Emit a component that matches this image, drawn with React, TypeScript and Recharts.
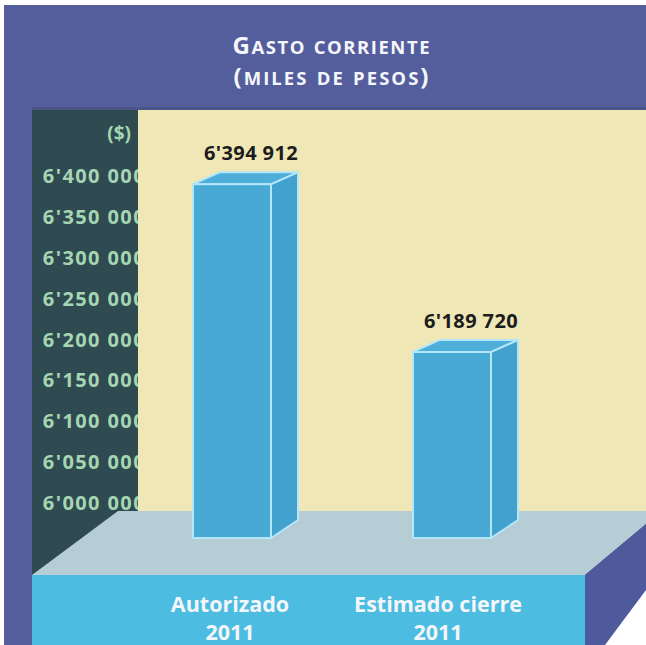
import { Bar, BarChart, LabelList, XAxis, YAxis } from "recharts";

const CATEGORIES = ["Autorizado 2011", "Estimado cierre 2011"];
const GASTO = [6394912, 6189720];
const Y_TICKS = [
  6000000, 6050000, 6100000, 6150000, 6200000, 6250000, 6300000, 6350000,
  6400000,
];
const TITLE_LINES = ["Gasto corriente", "(miles de pesos)"];
const UNIT_LABEL = "($)";

// axis range chosen so the ticks sit where the picture has them
const Y_MIN = 5957187;
const Y_MAX = 6479511;

const W = 646;
const H = 645;

const C = {
  frame: "#545e9d",
  panel: "#2f4a50",
  plot: "#efe7b5",
  floor: "#b7cdd5",
  band: "#4cbde0",
  side: "#4f5a9c",
  barFront: "#48a9d5",
  barSide: "#42a1cd",
  barTop: "#4caed9",
  barEdge: "#b3e6f8",
  tick: "#a5d6b4",
  white: "#f4f6fb",
};

const FONT = "'Open Sans', 'DejaVu Sans', sans-serif";

const data = CATEGORIES.map((name, i) => ({ name, value: GASTO[i] }));

// 6394912 -> 6'394 912
function fmt(v: number) {
  const s = String(Math.round(v));
  const rest = s.slice(-6);
  return `${s.slice(0, -6)}'${rest.slice(0, 3)} ${rest.slice(3)}`;
}

const DEPTH_X = 27;
const DEPTH_Y = -12;

function Box3D(props: any) {
  const { x, y, width, height } = props;
  if (width == null || height == null) return null;
  const bottom = y + height;
  const top = y + 4;
  const r = x + width;
  return (
    <g stroke={C.barEdge} strokeWidth={2} strokeLinejoin="round">
      <polygon
        points={`${r},${top} ${r + DEPTH_X},${top + DEPTH_Y} ${r + DEPTH_X},${bottom + DEPTH_Y - 6} ${r},${bottom}`}
        fill={C.barSide}
      />
      <polygon
        points={`${x},${top} ${x + DEPTH_X},${top + DEPTH_Y} ${r + DEPTH_X},${top + DEPTH_Y} ${r},${top}`}
        fill={C.barTop}
      />
      <rect x={x} y={top} width={width} height={bottom - top} fill={C.barFront} />
    </g>
  );
}

function YTick(props: any) {
  const { y, payload, index } = props;
  const id = `tickclip-${index}`;
  return (
    <g>
      <defs>
        <clipPath id={id}>
          <rect x={0} y={y - 20} width={138} height={40} />
        </clipPath>
      </defs>
      <text
        x={146}
        y={y}
        dy={7}
        textAnchor="end"
        clipPath={`url(#${id})`}
        fill={C.tick}
        fontFamily={FONT}
        fontWeight={700}
        fontSize={20}
        letterSpacing={1.4}
      >
        {fmt(payload.value)}
      </text>
    </g>
  );
}

function XTick(props: any) {
  const { x, y, payload, index } = props;
  const s = String(payload.value);
  const cut = s.lastIndexOf(" ");
  const lines = [s.slice(0, cut), s.slice(cut + 1)];
  const shift = index === 0 ? -2 : -14;
  return (
    <g>
      {lines.map((line, i) => (
        <text
          key={i}
          x={x + shift}
          y={y + 72 + i * 28}
          textAnchor="middle"
          fill={C.white}
          fontFamily={FONT}
          fontWeight={700}
          fontSize={21.5}
        >
          {line}
        </text>
      ))}
    </g>
  );
}

function ValueLabel(props: any) {
  const { x, y, width, value } = props;
  return (
    <text
      x={x + width / 2 + 19}
      y={y - 20}
      textAnchor="middle"
      fill="#1c1c1c"
      fontFamily={FONT}
      fontWeight={700}
      fontSize={20}
      letterSpacing={0.4}
    >
      {fmt(value)}
    </text>
  );
}

// small caps by hand: capitals and punctuation full size, lowercase shrunk
function SmallCaps({ text }: { text: string }) {
  return (
    <>
      {text.split("").map((ch, i) => {
        const lower = ch !== ch.toUpperCase();
        return (
          <tspan key={i} fontSize={lower ? 18.5 : 24}>
            {ch.toUpperCase()}
          </tspan>
        );
      })}
    </>
  );
}

function Backdrop() {
  return (
    <svg width={W} height={H} style={{ position: "absolute", left: 0, top: 0 }}>
      <rect x={0} y={0} width={W} height={H} fill="#fff" />
      <rect x={4} y={5} width={W - 4} height={H - 5} fill={C.frame} />
      <rect x={32} y={107} width={W - 32} height={3} fill="#4c5588" />
      <rect x={32} y={110} width={106} height={465} fill={C.panel} />
      <rect x={138} y={110} width={W - 138} height={401} fill={C.plot} />
      <polygon points={`32,575 118,511 ${W},511 ${W},524 585,575`} fill={C.floor} />
      <rect x={32} y={575} width={553} height={70} fill={C.band} />
      <polygon points={`585,575 ${W},524 ${W},590 605,${H} 585,${H}`} fill={C.side} />
      <polygon points={`605,${H} ${W},590 ${W},${H}`} fill="#fff" />
      {TITLE_LINES.map((t, i) => (
        <text
          key={t}
          x={331}
          y={54 + i * 31}
          textAnchor="middle"
          fill={C.white}
          fontFamily={FONT}
          fontWeight={700}
          textLength={i === 0 ? 197 : 195}
          lengthAdjust="spacing"
        >
          <SmallCaps text={t} />
        </text>
      ))}
      <text
        x={131}
        y={140}
        textAnchor="end"
        fill={C.tick}
        fontFamily={FONT}
        fontWeight={700}
        fontSize={19}
      >
        {UNIT_LABEL}
      </text>
    </svg>
  );
}

export default function App() {
  return (
    <div style={{ position: "absolute", left: 0, top: 0, width: W, height: H }}>
      <Backdrop />
      <div style={{ position: "absolute", left: 0, top: 0 }}>
        <BarChart
          width={W}
          height={H}
          data={data}
          margin={{ top: 111, right: 84, bottom: 0, left: 0 }}
        >
          <XAxis
            dataKey="name"
            height={107}
            axisLine={false}
            tickLine={false}
            tickSize={0}
            tick={<XTick />}
            interval={0}
          />
          <YAxis
            type="number"
            width={122}
            domain={[Y_MIN, Y_MAX]}
            ticks={Y_TICKS}
            axisLine={false}
            tickLine={false}
            tick={<YTick />}
            interval={0}
          />
          <Bar
            dataKey="value"
            barSize={78}
            shape={<Box3D />}
            isAnimationActive={false}
          >
            <LabelList dataKey="value" content={<ValueLabel />} />
          </Bar>
        </BarChart>
      </div>
    </div>
  );
}
